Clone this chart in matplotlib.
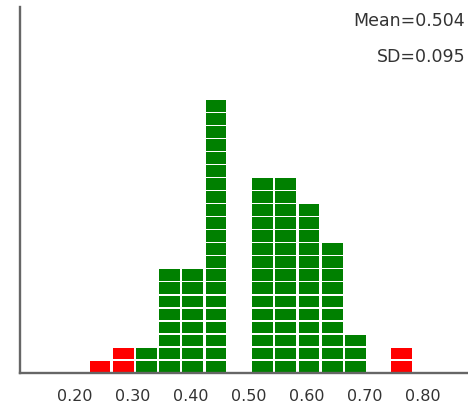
import matplotlib
matplotlib.use("Agg")
import matplotlib.pyplot as plt

# histogram bins (left edges, width 0.04) and counts
bin_left = [0.224, 0.264, 0.304, 0.344, 0.384, 0.424, 0.464,
            0.504, 0.544, 0.584, 0.624, 0.664, 0.704, 0.744]
counts = [1, 2, 2, 8, 8, 21, 0, 15, 15, 13, 10, 3, 0, 2]
outlier = [True, True, False, False, False, False, False,
           False, False, False, False, False, False, True]
bin_width = 0.04

tick_values = [0.20, 0.30, 0.40, 0.50, 0.60, 0.70, 0.80]
tick_labels = ["0.20", "0.30", "0.40", "0.50", "0.60", "0.70", "0.80"]
mean_text = "Mean=0.504"
sd_text = "SD=0.095"

GREEN = "#008000"
RED = "#ff0000"

fig = plt.figure(figsize=(4.68, 4.04), dpi=100)
ax = fig.add_axes([20 / 468, 31 / 404, 448 / 468, 366 / 404])

gap_x = 0.0043
gap_y = 0.10
for left, n, red in zip(bin_left, counts, outlier):
    color = RED if red else GREEN
    for k in range(n):
        ax.bar(left + gap_x / 2, 1 - gap_y, width=bin_width - gap_x,
               bottom=k + gap_y / 2, align="edge", color=color,
               edgecolor="none", zorder=2)

ax.set_xlim(0.1063, 0.878)
ax.set_ylim(0, 28.1)

for side in ("top", "right"):
    ax.spines[side].set_visible(False)
for side in ("left", "bottom"):
    ax.spines[side].set_color("#666666")
    ax.spines[side].set_linewidth(1.7)
ax.spines["bottom"].set_zorder(3)

ax.set_yticks([])
ax.set_xticks(tick_values)
ax.set_xticklabels(tick_labels)
ax.tick_params(axis="x", length=0, pad=11.5, labelsize=11.5,
               labelcolor="#333333")

# stats sit in the top right corner, right aligned just inside the edge
fig.text(465 / 468, 1 - 26.5 / 404, mean_text, ha="right", va="baseline",
         fontsize=12.5, color="#333333")
fig.text(465 / 468, 1 - 62.5 / 404, sd_text, ha="right", va="baseline",
         fontsize=12.5, color="#333333")

fig.savefig("out.png", dpi=100)
